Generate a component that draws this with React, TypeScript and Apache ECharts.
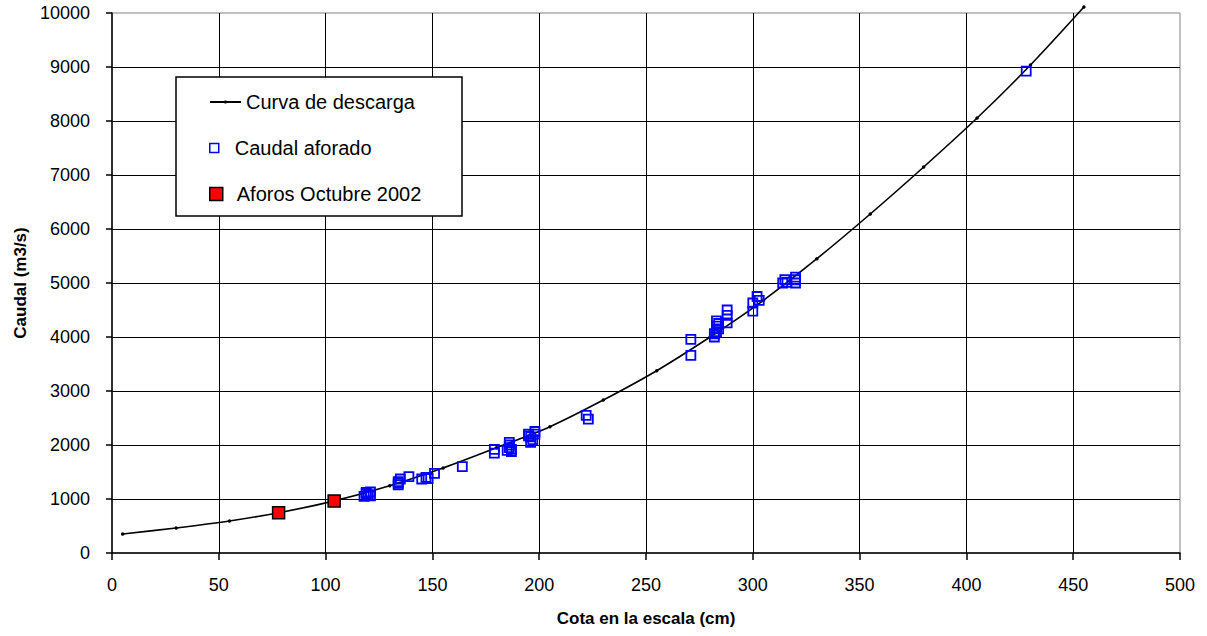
import React, { useEffect, useRef } from "react";
import * as echarts from "echarts";

// Rating curve (Curva de descarga)
const curveX = [5, 30, 55, 80, 105, 130, 155, 180, 205, 230, 255, 280, 305, 330, 355, 380, 405, 430, 455];
const curveY = [352, 463, 593, 760, 975, 1247, 1575, 1950, 2339, 2833, 3376, 4000, 4680, 5450, 6278, 7148, 8055, 9037, 10110];

// Gauged discharges (Caudal aforado)
const gaugedX = [118, 119, 120, 121, 119, 121, 134, 134, 135, 134, 139, 145, 147, 148, 151, 164, 179, 179, 185, 186, 186, 186, 187, 187, 195, 196, 196, 197, 198, 198, 195, 222, 223, 271, 271, 282, 282, 283, 284, 283, 283, 284, 288, 288, 288, 300, 300, 302, 303, 314, 315, 316, 320, 320, 320, 428];
const gaugedY = [1050, 1120, 1080, 1130, 1100, 1060, 1260, 1320, 1370, 1290, 1413, 1370, 1400, 1380, 1475, 1600, 1850, 1920, 1900, 1950, 2000, 2050, 1920, 1880, 2200, 2150, 2050, 2100, 2250, 2200, 2170, 2550, 2480, 3957, 3660, 4000, 4060, 4100, 4150, 4200, 4300, 4250, 4260, 4400, 4500, 4480, 4630, 4750, 4680, 5000, 5060, 5010, 5000, 5060, 5110, 8925];

// October 2002 gaugings (Aforos Octubre 2002)
const octX = [78, 104];
const octY = [745, 963];

const FONT = "'Liberation Sans', Arial, sans-serif";
const SQUARE = "path://M0,0H10V10H0Z";

export default function App() {
  const ref = useRef<HTMLDivElement>(null);

  useEffect(() => {
    if (!ref.current) return;
    const chart = echarts.init(ref.current, undefined, { renderer: "svg" });
    const zip = (xs: number[], ys: number[]) => xs.map((x, i) => [x, ys[i]]);

    const legendText = { fontSize: 20, color: "#000", fontFamily: FONT };
    const plain = (v: number) => String(v);

    chart.setOption({
      animation: false,
      textStyle: { fontFamily: FONT },
      grid: {
        left: 112,
        right: 27,
        top: 13,
        bottom: 83,
        show: true,
        borderColor: "#808080",
        borderWidth: 1,
        backgroundColor: "transparent",
      },
      xAxis: {
        type: "value",
        min: 0,
        max: 500,
        interval: 50,
        name: "Cota en la escala (cm)",
        nameLocation: "middle",
        nameGap: 57,
        nameTextStyle: { fontSize: 17, fontWeight: "bold", color: "#000", fontFamily: FONT },
        axisLine: { show: true, onZero: false, lineStyle: { color: "#000", width: 1.5 } },
        axisTick: { show: true, length: 7, lineStyle: { color: "#000", width: 1.5 } },
        axisLabel: { fontSize: 18, color: "#000", margin: 23, fontFamily: FONT, formatter: plain },
        splitLine: { show: true, showMinLine: false, showMaxLine: false, lineStyle: { color: "#000", width: 1 } },
      },
      yAxis: {
        type: "value",
        min: 0,
        max: 10000,
        interval: 1000,
        name: "Caudal (m3/s)",
        nameLocation: "middle",
        nameGap: 81,
        nameTextStyle: { fontSize: 17, fontWeight: "bold", color: "#000", fontFamily: FONT },
        axisLine: { show: true, onZero: false, lineStyle: { color: "#000", width: 1.5 } },
        axisTick: { show: true, length: 6, lineStyle: { color: "#000", width: 1.5 } },
        axisLabel: { fontSize: 18, color: "#000", margin: 22, fontFamily: FONT, formatter: plain },
        splitLine: { show: true, showMinLine: false, showMaxLine: false, lineStyle: { color: "#000", width: 1 } },
      },
      graphic: [
        {
          type: "rect",
          z: 3,
          shape: { x: 176, y: 77, width: 286, height: 139 },
          style: { fill: "#fff", stroke: "#000", lineWidth: 1.5 },
        },
      ],
      legend: [
        {
          data: ["Curva de descarga"],
          left: 209,
          top: 92,
          padding: 0,
          itemWidth: 31,
          itemHeight: 4,
          selectedMode: false,
          textStyle: legendText,
          z: 5,
        },
        {
          data: [{ name: "Caudal aforado", icon: SQUARE }],
          left: 209,
          top: 138,
          padding: 0,
          itemWidth: 31,
          itemHeight: 9,
          symbolKeepAspect: true,
          selectedMode: false,
          itemStyle: { borderWidth: 1.5 },
          textStyle: legendText,
          z: 5,
        },
        {
          data: [{ name: "Aforos Octubre 2002", icon: SQUARE }],
          left: 209,
          top: 184,
          padding: 0,
          itemWidth: 31,
          itemHeight: 13,
          symbolKeepAspect: true,
          selectedMode: false,
          itemStyle: { borderWidth: 1.5 },
          textStyle: legendText,
          z: 5,
        },
      ],
      series: [
        {
          name: "Curva de descarga",
          type: "line",
          data: zip(curveX, curveY),
          smooth: 0.3,
          clip: false,
          symbol: "circle",
          symbolSize: 3.5,
          showAllSymbol: true,
          itemStyle: { color: "#000" },
          lineStyle: { color: "#000", width: 1.6 },
          z: 2,
        },
        {
          name: "Caudal aforado",
          type: "scatter",
          data: zip(gaugedX, gaugedY),
          symbol: "rect",
          symbolSize: 9,
          itemStyle: { color: "rgba(255,255,255,0)", borderColor: "#0000ff", borderWidth: 1.8, opacity: 1 },
          z: 3,
        },
        {
          name: "Aforos Octubre 2002",
          type: "scatter",
          data: zip(octX, octY),
          symbol: "rect",
          symbolSize: 12,
          itemStyle: { color: "#ff0000", borderColor: "#000", borderWidth: 1.5, opacity: 1 },
          z: 4,
        },
      ],
    });

    return () => chart.dispose();
  }, []);

  return (
    <div
      ref={ref}
      style={{ position: "fixed", left: 0, top: 0, width: 1207, height: 636, background: "#fff" }}
    />
  );
}
